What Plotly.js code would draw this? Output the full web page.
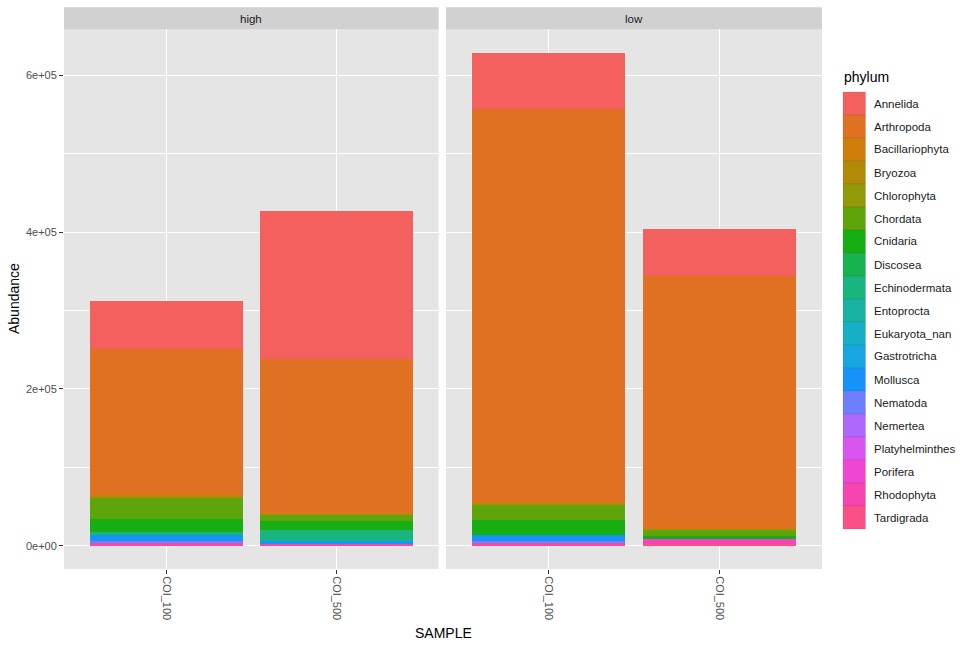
<!DOCTYPE html>
<html>
<head>
<meta charset="utf-8">
<script src="https://cdn.plot.ly/plotly-3.0.1.min.js"></script>
<style>
  body { margin: 0; background: #ffffff; }
  #chart { width: 971px; height: 648px; }
</style>
</head>
<body>
<div id="chart"></div>
<script>
// phylum levels (ggplot order, first level is drawn at the top of each stack)
const phyla = [
  "Annelida", "Arthropoda", "Bacillariophyta", "Bryozoa", "Chlorophyta",
  "Chordata", "Cnidaria", "Discosea", "Echinodermata", "Entoprocta",
  "Eukaryota_nan", "Gastrotricha", "Mollusca", "Nematoda", "Nemertea",
  "Platyhelminthes", "Porifera", "Rhodophyta", "Tardigrada",
];
const phylumColors = [
  "#F3605D", "#E07022", "#CF7E0C", "#B18A08", "#929A0A",
  "#5EA40B", "#17AE13", "#16B350", "#18B67E", "#17B2A1",
  "#16AFC8", "#18A6E3", "#1693FB", "#6D7FFD", "#AE68FB",
  "#DA55F0", "#F047D3", "#F645B0", "#FA5087",
];

const samples = ["COI_100", "COI_500"];
const facets = ["high", "low"];

// abundance per phylum, same order as phyla
const highCOI100 = [61300, 185500, 2000, 3000, 0, 26800, 16600, 0, 3800, 0, 0, 0, 7700, 1600, 0, 0, 0, 2500, 1500];
const highCOI500 = [188900, 196700, 800, 1300, 0, 8500, 10600, 0, 14500, 0, 0, 0, 2500, 0, 0, 0, 0, 1500, 1900];
const lowCOI100 = [71800, 500900, 1500, 2300, 0, 20000, 19100, 0, 0, 0, 0, 0, 7700, 1300, 0, 0, 0, 2500, 1700];
const lowCOI500 = [60000, 320700, 1200, 1800, 0, 7700, 4300, 0, 0, 0, 0, 0, 0, 0, 0, 0, 3000, 2500, 3000];

const yTickVals = [0, 200000, 400000, 600000];
const yTickText = ["0e+00", "2e+05", "4e+05", "6e+05"];
const yMinorVals = [100000, 300000, 500000];

const facetData = {
  high: [highCOI100, highCOI500],
  low: [lowCOI100, lowCOI500],
};

// pixel helpers for the plot box (64..822 x 29..569)
const PLOT_L = 64, PLOT_R = 822, PLOT_T = 29, PLOT_B = 569;
const px = (x) => (x - PLOT_L) / (PLOT_R - PLOT_L);
const py = (y) => (PLOT_B - y) / (PLOT_B - PLOT_T);

const FONT = "Liberation Sans, Arial, sans-serif";

const traces = [];
facets.forEach((facet, f) => {
  const [a, b] = facetData[facet];
  for (let i = phyla.length - 1; i >= 0; i--) {
    traces.push({
      type: "bar",
      name: phyla[i],
      x: samples,
      y: [a[i], b[i]],
      xaxis: f === 0 ? "x" : "x2",
      yaxis: f === 0 ? "y" : "y2",
      marker: {
        color: phylumColors[i],
        line: { width: 0 },
      },
      showlegend: false,
      hovertemplate: `${facet}<br>%{x}<br>${phyla[i]}: %{y}<extra></extra>`,
    });
  }
});

const xAxisBase = {
  type: "category",
  range: [-0.6, 1.6],
  showgrid: true,
  gridcolor: "#ffffff",
  gridwidth: 1.1,
  zeroline: false,
  showline: false,
  ticks: "outside",
  ticklen: 4,
  tickwidth: 1,
  tickcolor: "#333333",
  tickangle: 90,
  tickfont: { family: FONT, size: 11, color: "#4D4D4D" },
};

const yAxisBase = {
  range: [-29760, 659500],
  tickmode: "array",
  tickvals: yTickVals,
  ticktext: yTickText,
  showgrid: true,
  gridcolor: "#ffffff",
  gridwidth: 1.1,
  zeroline: false,
  showline: false,
  minor: {
    tickmode: "array",
    tickvals: yMinorVals,
    showgrid: true,
    gridcolor: "#ffffff",
    gridwidth: 0.55,
    ticks: "",
  },
};

const shapes = [];
const annotations = [];

// facet strips
const stripDomains = [[0, 0.4943], [0.504, 1]];
facets.forEach((facet, f) => {
  const [d0, d1] = stripDomains[f];
  shapes.push({
    type: "rect", xref: "paper", yref: "paper",
    x0: d0, x1: d1, y0: py(29.3), y1: py(7.3),
    fillcolor: "#D1D1D1", line: { width: 0 }, layer: "below",
  });
  annotations.push({
    xref: "paper", yref: "paper", x: (d0 + d1) / 2, y: py(18.5),
    text: facet, showarrow: false, xanchor: "center", yanchor: "middle",
    font: { family: FONT, size: 11.5, color: "#1A1A1A" },
  });
});

// legend drawn as ggplot-style keys
annotations.push({
  xref: "paper", yref: "paper", x: px(842), y: py(77),
  text: "phylum", showarrow: false, xanchor: "left", yanchor: "middle",
  font: { family: FONT, size: 14, color: "#000000" },
});
phyla.forEach((name, i) => {
  const top = 92 + 23 * i;
  shapes.push({
    type: "rect", xref: "paper", yref: "paper",
    x0: px(843), x1: px(865.5), y0: py(top + 23), y1: py(top),
    fillcolor: phylumColors[i], line: { color: "rgba(60,60,60,0.25)", width: 0.5 },
  });
  annotations.push({
    xref: "paper", yref: "paper", x: px(872), y: py(top + 11.5),
    text: name, showarrow: false, xanchor: "left", yanchor: "middle",
    font: { family: FONT, size: 11.5, color: "#1A1A1A" },
  });
});

// axis titles
annotations.push({
  xref: "paper", yref: "paper", x: px(443), y: py(633),
  text: "SAMPLE", showarrow: false, xanchor: "center", yanchor: "middle",
  font: { family: FONT, size: 14, color: "#000000" },
});
annotations.push({
  xref: "paper", yref: "paper", x: px(14), y: py(299),
  text: "Abundance", showarrow: false, textangle: -90,
  xanchor: "center", yanchor: "middle",
  font: { family: FONT, size: 14, color: "#000000" },
});

const layout = {
  width: 971,
  height: 648,
  margin: { l: PLOT_L, r: 971 - PLOT_R, t: PLOT_T, b: 648 - PLOT_B },
  paper_bgcolor: "#ffffff",
  plot_bgcolor: "#E5E5E5",
  barmode: "stack",
  bargap: 0.1,
  showlegend: false,
  font: { family: FONT },
  xaxis: { ...xAxisBase, domain: stripDomains[0], anchor: "y" },
  xaxis2: { ...xAxisBase, domain: stripDomains[1], anchor: "y2" },
  yaxis: {
    ...yAxisBase,
    anchor: "x",
    ticks: "outside",
    ticklen: 4,
    tickcolor: "#333333",
    tickfont: { family: FONT, size: 11, color: "#4D4D4D" },
  },
  yaxis2: {
    ...yAxisBase,
    anchor: "x2",
    matches: "y",
    showticklabels: false,
    ticks: "",
  },
  shapes,
  annotations,
};

Plotly.newPlot("chart", traces, layout, { displayModeBar: false, responsive: false });
</script>
</body>
</html>
